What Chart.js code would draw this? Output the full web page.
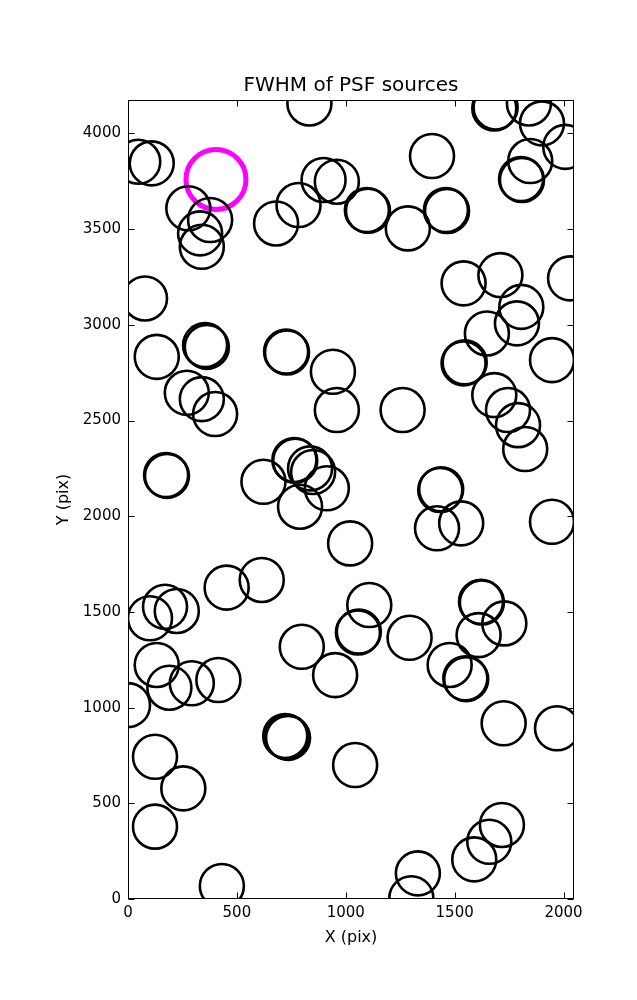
<!DOCTYPE html>
<html>
<head>
<meta charset="utf-8">
<script src="https://cdn.jsdelivr.net/npm/chart.js@4/dist/chart.umd.min.js"></script>
<style>
html, body { margin: 0; padding: 0; background: #fff; }
#wrap { width: 637px; height: 1000px; }
</style>
</head>
<body>
<div id="wrap"><canvas id="area" width="637" height="1000"></canvas></div>
<script>
// source positions (pix)
var srcX = [833, 47, 109, 277, 377, 331, 339, 78, 680, 783, 898, 959, 1097, 1102, 1285, 1460, 1465, 1396,
    1682, 1688, 1841, 1901, 2008, 1847, 1809, 1805, 1541, 1710, 2030, 1806, 1786, 1648, 1947, 1541, 1546,
    1682, 1745, 1791, 1824, 1261, 1434, 1438, 132, 354, 362, 270, 339, 400, 175, 179, 726, 730, 941, 959,
    764, 768, 836, 850, 622, 913, 790, 1020, 453, 614, 170, 224, 101, 132, 190, 293, 415, 798, 951, 1419,
    1530, 1947, 1108, 1056, 1060, 1293, 1621, 1625, 1728, 1610, 1477, 1549, 1553, 722, 730, 735, 124, 254,
    124, 431, 0, 1043, 1725, 1970, 1717, 1659, 1590, 1331, 1301];
var srcY = [4157, 3852, 3844, 3609, 3548, 3478, 3408, 3138, 3530, 3626, 3757, 3748, 3600, 3596, 3504, 3600, 3595, 3882,
    4131, 4136, 4157, 4053, 3930, 3856, 3757, 3762, 3217, 3260, 3243, 3094, 3008, 2955, 2816, 2799, 2804,
    2633, 2555, 2476, 2351, 2555, 2137, 2141, 2833, 2894, 2885, 2645, 2612, 2534, 2215, 2211, 2860, 2856, 2755, 2555,
    2294, 2290, 2250, 2231, 2180, 2146, 2050, 1858, 1627, 1667, 1527, 1505, 1467, 1223, 1104, 1127, 1144, 1318, 1170, 1937,
    1963, 1971, 1536, 1393, 1397, 1365, 1553, 1549, 1440, 1379, 1223, 1153, 1149, 852, 846, 842, 743, 578,
    378, 68, 1013, 700, 918, 892, 387, 299, 207, 134, 4];
// highlighted source
var markX = [404];
var markY = [3760];

var xTicks = [0, 500, 1000, 1500, 2000];
var yTicks = [0, 500, 1000, 1500, 2000, 2500, 3000, 3500, 4000];
var xMax = 2048, yMax = 4175;

var FONT = "'DejaVu Sans', sans-serif";

function pts(xa, ya) {
    return xa.map(function (x, i) { return { x: x, y: ya[i] }; });
}

// frame, inward ticks on all sides, title and axis labels
var framePlugin = {
    id: 'frame',
    afterDraw: function (chart) {
        var c = chart.ctx, a = chart.chartArea;
        var xs = chart.scales.x, ys = chart.scales.y;
        var L = Math.round(a.left) + 0.5, R = Math.round(a.right) - 0.5;
        var T = Math.round(a.top) + 0.5, B = Math.round(a.bottom) - 0.5;
        c.save();
        c.strokeStyle = '#000';
        c.lineWidth = 1;
        c.strokeRect(L, T, R - L, B - T);
        c.beginPath();
        xTicks.forEach(function (v) {
            var p = Math.round(xs.getPixelForValue(v)) + 0.5;
            c.moveTo(p, B); c.lineTo(p, B - 6);
            c.moveTo(p, T); c.lineTo(p, T + 6);
        });
        yTicks.forEach(function (v) {
            var p = Math.round(ys.getPixelForValue(v)) + 0.5;
            c.moveTo(L, p); c.lineTo(L + 6, p);
            c.moveTo(R, p); c.lineTo(R - 6, p);
        });
        c.stroke();

        c.fillStyle = '#000';
        c.textAlign = 'center';
        c.textBaseline = 'middle';
        var cx = (a.left + a.right) / 2, cy = (a.top + a.bottom) / 2;
        c.font = '20px ' + FONT;
        c.fillText('FWHM of PSF sources', cx, 86);
        c.font = '16px ' + FONT;
        c.fillText('X (pix)', cx, 938);
        c.translate(64, cy);
        c.rotate(-Math.PI / 2);
        c.fillText('Y (pix)', 0, 0);
        c.restore();
    }
};

var ctx = document.getElementById('area').getContext('2d');
var myChart = new Chart(ctx, {
    type: 'scatter',
    data: {
        datasets: [{
            label: 'sources',
            data: pts(srcX, srcY),
            pointRadius: 22,
            pointBorderWidth: 2.6,
            borderColor: '#000',
            backgroundColor: 'rgba(0,0,0,0)',
            clip: 0
        }, {
            label: 'target',
            data: pts(markX, markY),
            pointRadius: 30,
            pointBorderWidth: 5,
            borderColor: '#ff00ff',
            backgroundColor: 'rgba(0,0,0,0)',
            clip: 0
        }]
    },
    plugins: [framePlugin],
    options: {
        responsive: false,
        animation: false,
        events: [],
        layout: { padding: { top: 100, right: 63, left: 0, bottom: 0 } },
        plugins: {
            legend: { display: false },
            tooltip: { enabled: false }
        },
        scales: {
            x: {
                type: 'linear',
                min: 0, max: xMax,
                afterFit: function (s) { s.height = 101; },
                afterBuildTicks: function (s) { s.ticks = xTicks.map(function (v) { return { value: v }; }); },
                grid: { display: false, drawTicks: false },
                border: { display: false },
                ticks: {
                    padding: 5,
                    color: '#000',
                    font: { family: FONT, size: 15 },
                    maxRotation: 0,
                    callback: function (v) { return String(v); }
                }
            },
            y: {
                type: 'linear',
                min: 0, max: yMax,
                afterFit: function (s) { s.width = 128; },
                afterBuildTicks: function (s) { s.ticks = yTicks.map(function (v) { return { value: v }; }); },
                grid: { display: false, drawTicks: false },
                border: { display: false },
                ticks: {
                    padding: 7,
                    color: '#000',
                    font: { family: FONT, size: 15 },
                    callback: function (v) { return String(v); }
                }
            }
        }
    }
});
</script>
</body>
</html>
